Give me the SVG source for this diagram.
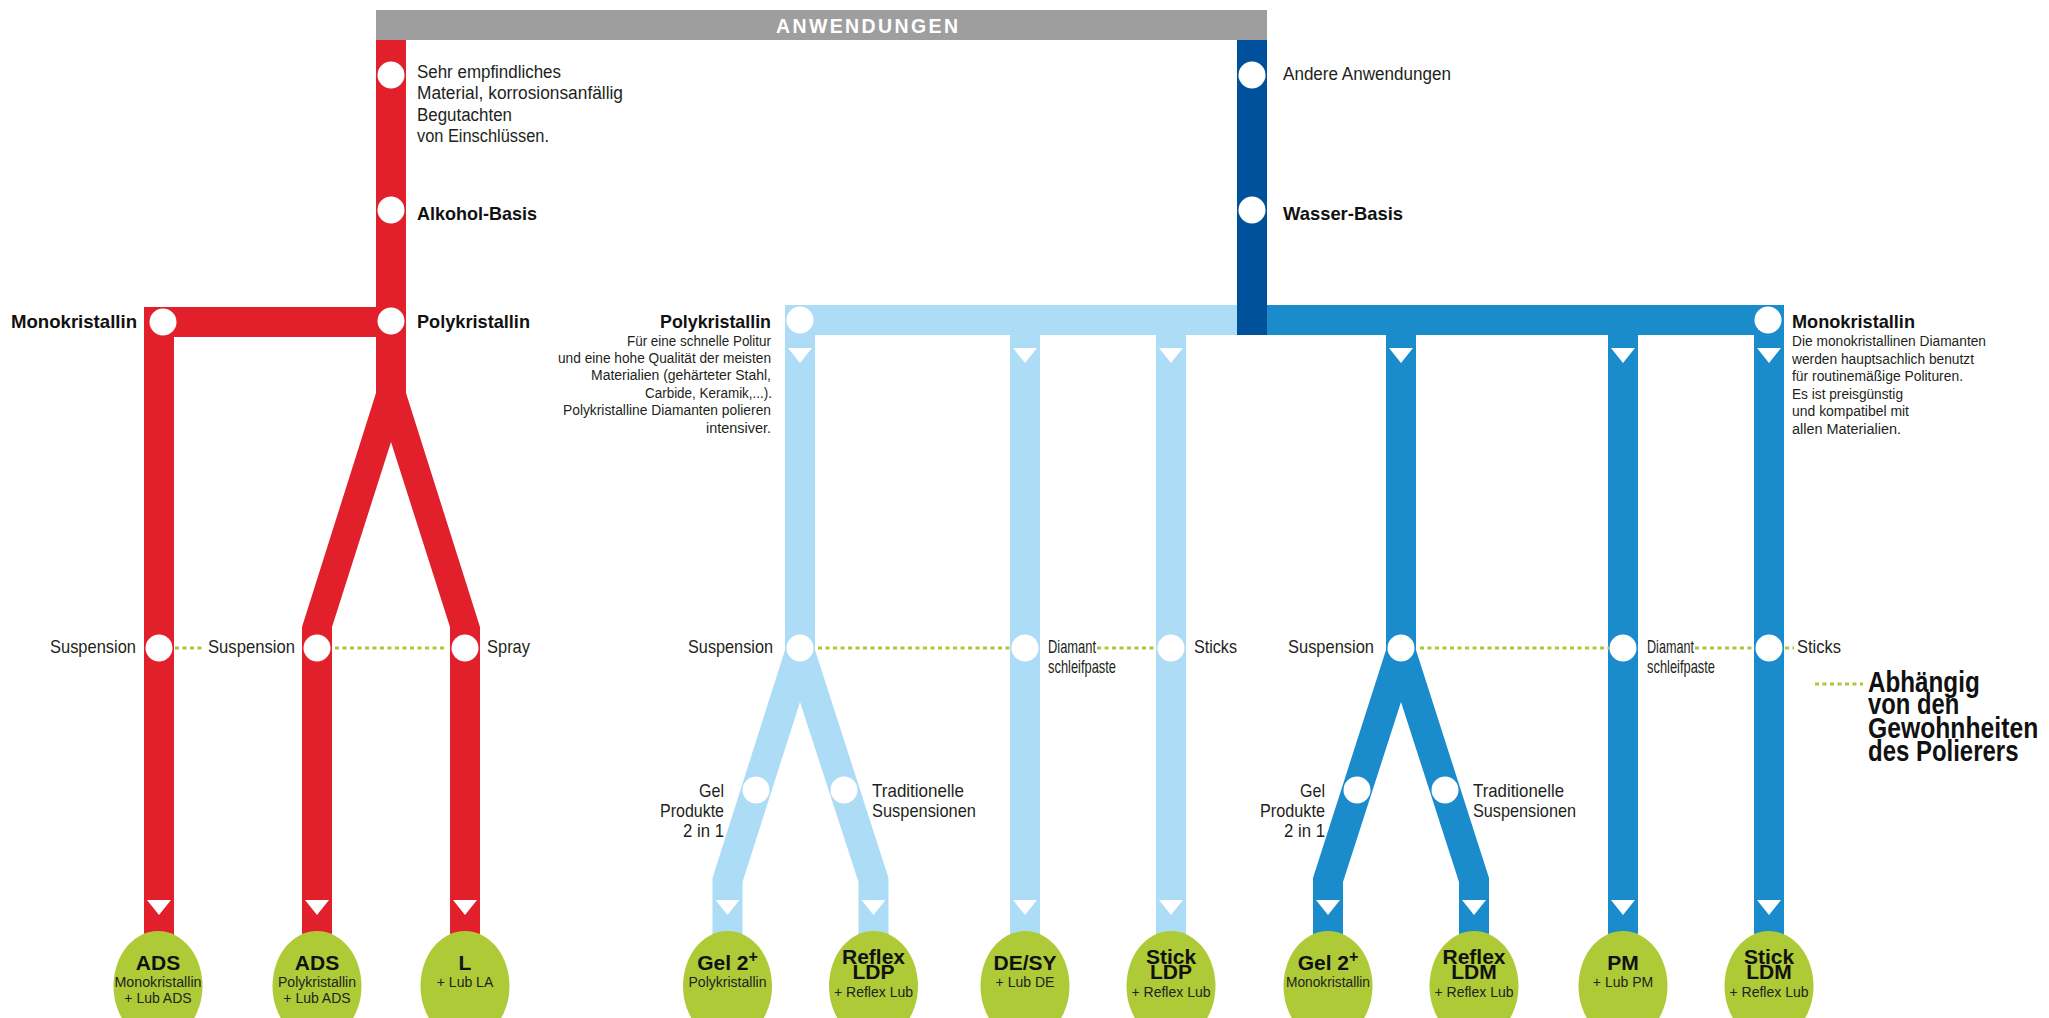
<svg xmlns="http://www.w3.org/2000/svg" width="2049" height="1018" viewBox="0 0 2049 1018">
<style>
.t{font-family:"Liberation Sans Narrow","Liberation Sans",Arial,sans-serif;fill:#231f20;font-size:19px}
.s{font-size:18px}
.p{font-size:14px}
.b{font-family:"Liberation Sans",Arial,sans-serif;font-weight:bold;font-size:18.5px;fill:#111}
.e{text-anchor:end}
.g1{font-family:"Liberation Sans",Arial,sans-serif;font-weight:bold;font-size:21px;fill:#111;text-anchor:middle}
.g2{font-family:"Liberation Sans Narrow","Liberation Sans",Arial,sans-serif;font-size:14px;font-weight:normal;fill:#222;text-anchor:middle}
.dot{stroke:#adc837;stroke-width:3;stroke-dasharray:4 3.5;fill:none}
.wc{fill:#fff}
.gc{fill:#afca37}
.red{fill:#e2202b}
.lb{fill:#acdcf6}
.mb{fill:#1a8bcb}
.db{fill:#00519c}
</style>
<defs>
<path id="tri" d="M-12,0 L12,0 L0,15 Z" fill="#fff"/>
</defs>

<g id="connectors">
  <polygon class="red" points="376,40 406,40 406,393 480,627 480,940 450,940 450,627 391,442 332,627 332,940 302,940 302,627 376,393"/>
  <rect class="red" x="144" y="307" width="262" height="30"/>
  <rect class="red" x="144" y="307" width="30" height="633"/>
  <rect class="lb" x="785" y="305" width="452" height="30"/>
  <polygon class="lb" points="785,305 815,305 815,650 888.5,878 888.5,940 858.5,940 858.5,882 800,702 742.5,882 742.5,940 712.5,940 712.5,878 785,650"/>
  <rect class="lb" x="1010" y="305" width="30" height="635"/>
  <rect class="lb" x="1156" y="305" width="30" height="635"/>
  <rect class="mb" x="1267" y="305" width="517" height="30"/>
  <polygon class="mb" points="1386,305 1416,305 1416,650 1489,878 1489,940 1459,940 1459,882 1401,702 1343,882 1343,940 1313,940 1313,878 1386,650"/>
  <rect class="mb" x="1608" y="305" width="30" height="635"/>
  <rect class="mb" x="1754" y="305" width="30" height="635"/>
  <rect class="db" x="1237" y="40" width="30" height="295"/>
  <use href="#tri" x="800" y="348"/>
  <use href="#tri" x="1025" y="348"/>
  <use href="#tri" x="1171" y="348"/>
  <use href="#tri" x="1401" y="348"/>
  <use href="#tri" x="1623" y="348"/>
  <use href="#tri" x="1769" y="348"/>
  <use href="#tri" x="159" y="900"/>
  <use href="#tri" x="317" y="900"/>
  <use href="#tri" x="465" y="900"/>
  <use href="#tri" x="727.5" y="900"/>
  <use href="#tri" x="873.5" y="900"/>
  <use href="#tri" x="1025" y="900"/>
  <use href="#tri" x="1171" y="900"/>
  <use href="#tri" x="1328" y="900"/>
  <use href="#tri" x="1474" y="900"/>
  <use href="#tri" x="1623" y="900"/>
  <use href="#tri" x="1769" y="900"/>
  <line class="dot" x1="175" y1="648" x2="204" y2="648"/>
  <line class="dot" x1="335" y1="648" x2="446" y2="648"/>
  <line class="dot" x1="818" y1="648" x2="1010" y2="648"/>
  <line class="dot" x1="1097" y1="648" x2="1157" y2="648"/>
  <line class="dot" x1="1420" y1="648" x2="1609" y2="648"/>
  <line class="dot" x1="1695" y1="648" x2="1754" y2="648"/>
  <line class="dot" x1="1785" y1="648" x2="1794" y2="648"/>
</g>

<g id="header">
  <rect x="376" y="10" width="891" height="30" fill="#9d9e9d"/>
  <text x="867" y="33" text-anchor="middle" font-family="Liberation Sans, Arial, sans-serif" font-weight="bold" font-size="19.5" fill="#fff" textLength="182" lengthAdjust="spacing">ANWENDUNGEN</text>
</g>

<g id="n-sehr">
  <circle class="wc" cx="391" cy="75" r="13.5"/>
  <text class="t s" x="417" y="78" textLength="144" lengthAdjust="spacingAndGlyphs">Sehr empfindliches</text>
  <text class="t s" x="417" y="99" textLength="206" lengthAdjust="spacingAndGlyphs">Material, korrosionsanfällig</text>
  <text class="t s" x="417" y="120.5" textLength="95" lengthAdjust="spacingAndGlyphs">Begutachten</text>
  <text class="t s" x="417" y="142" textLength="132" lengthAdjust="spacingAndGlyphs">von Einschlüssen.</text>
</g>
<g id="n-alkohol">
  <circle class="wc" cx="391" cy="210" r="13.5"/>
  <text class="b" x="417" y="220" textLength="120" lengthAdjust="spacingAndGlyphs">Alkohol-Basis</text>
</g>
<g id="n-poly-red">
  <circle class="wc" cx="391" cy="321" r="13.5"/>
  <text class="b" x="417" y="328" textLength="113" lengthAdjust="spacingAndGlyphs">Polykristallin</text>
</g>
<g id="n-mono-red">
  <circle class="wc" cx="163" cy="322" r="13.5"/>
  <text class="b e" x="137" y="328" textLength="126" lengthAdjust="spacingAndGlyphs">Monokristallin</text>
</g>
<g id="n-andere">
  <circle class="wc" cx="1252" cy="75" r="13.5"/>
  <text class="t s" x="1283" y="80" textLength="168" lengthAdjust="spacingAndGlyphs">Andere Anwendungen</text>
</g>
<g id="n-wasser">
  <circle class="wc" cx="1252" cy="210" r="13.5"/>
  <text class="b" x="1283" y="220" textLength="120" lengthAdjust="spacingAndGlyphs">Wasser-Basis</text>
</g>
<g id="n-poly-blue">
  <circle class="wc" cx="800" cy="320" r="13.5"/>
  <text class="b e" x="771" y="328" textLength="111" lengthAdjust="spacingAndGlyphs">Polykristallin</text>
  <text class="t p e" x="771" y="346" textLength="144" lengthAdjust="spacingAndGlyphs">Für eine schnelle Politur</text>
  <text class="t p e" x="771" y="363" textLength="213" lengthAdjust="spacingAndGlyphs">und eine hohe Qualität der meisten</text>
  <text class="t p e" x="771" y="380" textLength="180" lengthAdjust="spacingAndGlyphs">Materialien (gehärteter Stahl,</text>
  <text class="t p e" x="772" y="397.5" textLength="127" lengthAdjust="spacingAndGlyphs">Carbide, Keramik,...).</text>
  <text class="t p e" x="771" y="415" textLength="208" lengthAdjust="spacingAndGlyphs">Polykristalline Diamanten polieren</text>
  <text class="t p e" x="771" y="432.5" textLength="65" lengthAdjust="spacingAndGlyphs">intensiver.</text>
</g>
<g id="n-mono-blue">
  <circle class="wc" cx="1768" cy="320" r="13.5"/>
  <text class="b" x="1792" y="328" textLength="123" lengthAdjust="spacingAndGlyphs">Monokristallin</text>
  <text class="t p" x="1792" y="346" textLength="194" lengthAdjust="spacingAndGlyphs">Die monokristallinen Diamanten</text>
  <text class="t p" x="1792" y="363.5" textLength="182" lengthAdjust="spacingAndGlyphs">werden hauptsachlich benutzt</text>
  <text class="t p" x="1792" y="381" textLength="171" lengthAdjust="spacingAndGlyphs">für routinemäßige Polituren.</text>
  <text class="t p" x="1792" y="398.5" textLength="111" lengthAdjust="spacingAndGlyphs">Es ist preisgünstig</text>
  <text class="t p" x="1792" y="416" textLength="117" lengthAdjust="spacingAndGlyphs">und kompatibel mit</text>
  <text class="t p" x="1792" y="433.5" textLength="109" lengthAdjust="spacingAndGlyphs">allen Materialien.</text>
</g>

<g id="n-susp-red1">
  <circle class="wc" cx="159" cy="648" r="13.5"/>
  <text class="t e" x="136" y="653" textLength="86" lengthAdjust="spacingAndGlyphs">Suspension</text>
</g>
<g id="n-susp-red2">
  <circle class="wc" cx="317" cy="648" r="13.5"/>
  <text class="t e" x="295" y="653" textLength="87" lengthAdjust="spacingAndGlyphs">Suspension</text>
</g>
<g id="n-spray">
  <circle class="wc" cx="465" cy="648" r="13.5"/>
  <text class="t" x="487" y="653" textLength="43" lengthAdjust="spacingAndGlyphs">Spray</text>
</g>
<g id="n-susp-lb">
  <circle class="wc" cx="800" cy="648" r="13.5"/>
  <text class="t e" x="773" y="653" textLength="85" lengthAdjust="spacingAndGlyphs">Suspension</text>
</g>
<g id="n-diamant-lb">
  <circle class="wc" cx="1025" cy="648" r="13.5"/>
  <text class="t" x="1048" y="653" font-size="17" textLength="48" lengthAdjust="spacingAndGlyphs">Diamant</text>
  <text class="t" x="1048" y="673" font-size="17" textLength="68" lengthAdjust="spacingAndGlyphs">schleifpaste</text>
</g>
<g id="n-sticks-lb">
  <circle class="wc" cx="1171" cy="648" r="13.5"/>
  <text class="t" x="1194" y="653" textLength="43" lengthAdjust="spacingAndGlyphs">Sticks</text>
</g>
<g id="n-susp-mb">
  <circle class="wc" cx="1401" cy="648" r="13.5"/>
  <text class="t e" x="1374" y="653" textLength="86" lengthAdjust="spacingAndGlyphs">Suspension</text>
</g>
<g id="n-diamant-mb">
  <circle class="wc" cx="1623" cy="648" r="13.5"/>
  <text class="t" x="1647" y="653" font-size="17" textLength="47" lengthAdjust="spacingAndGlyphs">Diamant</text>
  <text class="t" x="1647" y="673" font-size="17" textLength="68" lengthAdjust="spacingAndGlyphs">schleifpaste</text>
</g>
<g id="n-sticks-mb">
  <circle class="wc" cx="1769" cy="648" r="13.5"/>
  <text class="t" x="1797" y="653" textLength="44" lengthAdjust="spacingAndGlyphs">Sticks</text>
</g>

<g id="n-gel-lb">
  <circle class="wc" cx="756" cy="790" r="13.5"/>
  <text class="t e" x="724" y="797" textLength="25" lengthAdjust="spacingAndGlyphs">Gel</text>
  <text class="t e" x="724" y="817" textLength="64" lengthAdjust="spacingAndGlyphs">Produkte</text>
  <text class="t e" x="724" y="837" textLength="41" lengthAdjust="spacingAndGlyphs">2 in 1</text>
</g>
<g id="n-trad-lb">
  <circle class="wc" cx="844" cy="790" r="13.5"/>
  <text class="t" x="872" y="797" textLength="92" lengthAdjust="spacingAndGlyphs">Traditionelle</text>
  <text class="t" x="872" y="817" textLength="104" lengthAdjust="spacingAndGlyphs">Suspensionen</text>
</g>
<g id="n-gel-mb">
  <circle class="wc" cx="1357" cy="790" r="13.5"/>
  <text class="t e" x="1325" y="797" textLength="25" lengthAdjust="spacingAndGlyphs">Gel</text>
  <text class="t e" x="1325" y="817" textLength="65" lengthAdjust="spacingAndGlyphs">Produkte</text>
  <text class="t e" x="1325" y="837" textLength="41" lengthAdjust="spacingAndGlyphs">2 in 1</text>
</g>
<g id="n-trad-mb">
  <circle class="wc" cx="1445" cy="790" r="13.5"/>
  <text class="t" x="1473" y="797" textLength="91" lengthAdjust="spacingAndGlyphs">Traditionelle</text>
  <text class="t" x="1473" y="817" textLength="103" lengthAdjust="spacingAndGlyphs">Suspensionen</text>
</g>

<g id="p-ads-mono">
  <ellipse class="gc" cx="158" cy="986" rx="44.5" ry="55"/>
  <text class="g1" x="158" y="970">ADS</text>
  <text class="g2" x="158" y="987" textLength="87" lengthAdjust="spacingAndGlyphs">Monokristallin</text>
  <text class="g2" x="158" y="1003">+ Lub ADS</text>
</g>
<g id="p-ads-poly">
  <ellipse class="gc" cx="317" cy="986" rx="44.5" ry="55"/>
  <text class="g1" x="317" y="970">ADS</text>
  <text class="g2" x="317" y="987" textLength="78" lengthAdjust="spacingAndGlyphs">Polykristallin</text>
  <text class="g2" x="317" y="1003">+ Lub ADS</text>
</g>
<g id="p-l">
  <ellipse class="gc" cx="465" cy="986" rx="44.5" ry="55"/>
  <text class="g1" x="465" y="970">L</text>
  <text class="g2" x="465" y="987">+ Lub LA</text>
</g>
<g id="p-gel-poly">
  <ellipse class="gc" cx="727.5" cy="986" rx="44.5" ry="55"/>
  <text class="g1" x="727.5" y="970">Gel 2<tspan dy="-8" font-size="16">+</tspan></text>
  <text class="g2" x="727.5" y="987" textLength="78" lengthAdjust="spacingAndGlyphs">Polykristallin</text>
</g>
<g id="p-reflex-ldp">
  <ellipse class="gc" cx="873.5" cy="986" rx="44.5" ry="55"/>
  <text class="g1" x="873.5" y="964">Reflex<tspan x="873.5" dy="15">LDP</tspan><tspan class="g2" x="873.5" dy="18">+ Reflex Lub</tspan></text>
</g>
<g id="p-desy">
  <ellipse class="gc" cx="1025" cy="986" rx="44.5" ry="55"/>
  <text class="g1" x="1025" y="970">DE/SY</text>
  <text class="g2" x="1025" y="987">+ Lub DE</text>
</g>
<g id="p-stick-ldp">
  <ellipse class="gc" cx="1171" cy="986" rx="44.5" ry="55"/>
  <text class="g1" x="1171" y="964">Stick<tspan x="1171" dy="15">LDP</tspan><tspan class="g2" x="1171" dy="18">+ Reflex Lub</tspan></text>
</g>
<g id="p-gel-mono">
  <ellipse class="gc" cx="1328" cy="986" rx="44.5" ry="55"/>
  <text class="g1" x="1328" y="970">Gel 2<tspan dy="-8" font-size="16">+</tspan></text>
  <text class="g2" x="1328" y="987" textLength="84" lengthAdjust="spacingAndGlyphs">Monokristallin</text>
</g>
<g id="p-reflex-ldm">
  <ellipse class="gc" cx="1474" cy="986" rx="44.5" ry="55"/>
  <text class="g1" x="1474" y="964">Reflex<tspan x="1474" dy="15">LDM</tspan><tspan class="g2" x="1474" dy="18">+ Reflex Lub</tspan></text>
</g>
<g id="p-pm">
  <ellipse class="gc" cx="1623" cy="986" rx="44.5" ry="55"/>
  <text class="g1" x="1623" y="970">PM</text>
  <text class="g2" x="1623" y="987">+ Lub PM</text>
</g>
<g id="p-stick-ldm">
  <ellipse class="gc" cx="1769" cy="986" rx="44.5" ry="55"/>
  <text class="g1" x="1769" y="964">Stick<tspan x="1769" dy="15">LDM</tspan><tspan class="g2" x="1769" dy="18">+ Reflex Lub</tspan></text>
</g>

<g id="legend">
  <line class="dot" x1="1815" y1="684" x2="1863" y2="684"/>
  <g transform="translate(1868,0) scale(0.76,1)" font-family="Liberation Sans, Arial, sans-serif" font-weight="bold" font-size="30" fill="#111">
    <text x="0" y="692" textLength="147" lengthAdjust="spacingAndGlyphs">Abhängig</text>
    <text x="0" y="714.5" textLength="120" lengthAdjust="spacingAndGlyphs">von den</text>
    <text x="0" y="738" textLength="224" lengthAdjust="spacingAndGlyphs">Gewohnheiten</text>
    <text x="0" y="761.5" textLength="198" lengthAdjust="spacingAndGlyphs">des Polierers</text>
  </g>
</g>
</svg>
